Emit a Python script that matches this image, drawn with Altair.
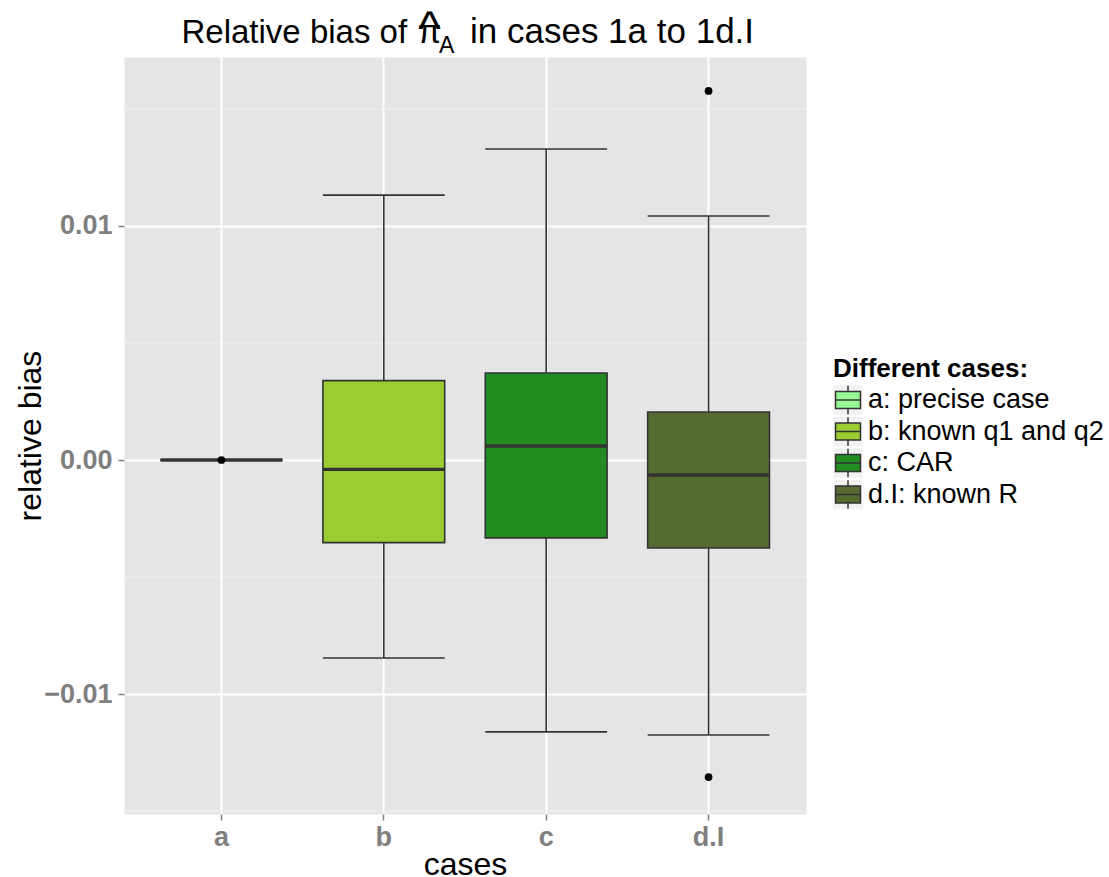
import altair as alt
import pandas as pd

# ---------------- data ----------------
cats = ["a", "b", "c", "d.I"]
labels = ["a: precise case", "b: known q1 and q2", "c: CAR", "d.I: known R"]
colors = ["#98FB98", "#9ACD32", "#228B22", "#556B2F"]
lower = [0.0, -0.00846, -0.01162, -0.01175]
q1 = [0.0, -0.00353, -0.00333, -0.00376]
med = [0.0, -0.00040, 0.00060, -0.00064]
q3 = [0.0, 0.00339, 0.00372, 0.00205]
upper = [0.0, 0.01132, 0.01329, 0.01043]
out_cat = ["a", "d.I", "d.I"]
out_val = [0.0, 0.01577, -0.01355]
major_y = [-0.01, 0.0, 0.01]
minor_y = [-0.015, -0.005, 0.005, 0.015]
y_domain = [-0.015128, 0.017222]

# ---------------- layout ----------------
W, H = 682, 757
STEP = W / 4.2
BW = 0.75 * STEP
FONT = "Liberation Sans"

df = pd.DataFrame({"cat": cats, "label": labels, "lower": lower, "q1": q1,
                   "med": med, "q3": q3, "upper": upper})
outl = pd.DataFrame({"cat": out_cat, "val": out_val})
minor = pd.DataFrame({"v": minor_y})
one = pd.DataFrame({"k": [0]})

xs = alt.Scale(domain=cats, paddingInner=0.25, paddingOuter=0.225)
ys = alt.Scale(domain=y_domain, nice=False, zero=False)
fill_scale = alt.Scale(domain=labels, range=colors)

xaxis = alt.Axis(labelFontWeight="bold", labelColor="#7F7F7F", labelFontSize=27,
                 labelFont=FONT, tickColor="#7F7F7F", tickSize=6, tickWidth=1.5,
                 labelPadding=4, grid=True, gridColor="white", gridWidth=2,
                 domain=False, titleFontSize=32, titleColor="black",
                 titleFontWeight="normal", titleFont=FONT, bandPosition=0.5,
                 labelAngle=0, titleBaseline="alphabetic", titleY=60)
yaxis = alt.Axis(values=major_y, format=".2f", labelFontWeight="bold",
                 labelColor="#7F7F7F", labelFontSize=27, labelFont=FONT,
                 tickColor="#7F7F7F", tickSize=6, tickWidth=1.5, labelPadding=6,
                 grid=True, gridColor="white", gridWidth=2, domain=False,
                 titleFontSize=32, titleColor="black", titleFontWeight="normal",
                 titleFont=FONT, titleBaseline="alphabetic", titleX=-84,
                 titleAngle=270)


def X():
    return alt.X("cat:N", scale=xs, axis=xaxis, title="cases")


def Y(field):
    return alt.Y(field, type="quantitative", scale=ys, axis=yaxis, title="relative bias")


def F():
    return alt.Fill("label:N", scale=fill_scale, legend=None)


LW = 1.6
minor_rules = alt.Chart(minor).mark_rule(color="#F2F2F2", strokeWidth=1).encode(y=Y("v"))

whisk_lo = alt.Chart(df).mark_rule(color="#333333", strokeWidth=LW).encode(
    x=X(), y=Y("lower"), y2="q1")
whisk_hi = alt.Chart(df).mark_rule(color="#333333", strokeWidth=LW).encode(
    x=X(), y=Y("q3"), y2="upper")
cap_lo = alt.Chart(df).mark_tick(color="#333333", thickness=LW, size=BW, opacity=1).encode(
    x=X(), y=Y("lower"))
cap_hi = alt.Chart(df).mark_tick(color="#333333", thickness=LW, size=BW, opacity=1).encode(
    x=X(), y=Y("upper"))
boxes = alt.Chart(df).mark_bar(stroke="#333333", strokeWidth=LW, opacity=1).encode(
    x=X(), y=Y("q1"), y2="q3", fill=F())
medians = alt.Chart(df).mark_tick(color="#333333", thickness=3.4, size=BW, opacity=1).encode(
    x=X(), y=Y("med"))
points = alt.Chart(outl).mark_circle(color="black", size=60, opacity=1).encode(
    x=X(), y=Y("val"))

# title pieces (plot-math style: pi with hat and subscript A)
tf = dict(font=FONT, color="black")
t1 = alt.Chart(one).mark_text(text="Relative bias of", fontSize=33, align="left",
                              baseline="alphabetic", **tf).encode(
    x=alt.value(57.5), y=alt.value(-14))
t2 = alt.Chart(one).mark_text(text="π", fontSize=34, align="center",
                              baseline="alphabetic", **tf).encode(
    x=alt.value(305.5), y=alt.value(-14))
t3 = alt.Chart(one).mark_text(text="^", fontSize=48, align="center",
                              baseline="alphabetic", **tf).encode(
    x=alt.value(305.5), y=alt.value(-12))
t4 = alt.Chart(one).mark_text(text="A", fontSize=23, align="left",
                              baseline="alphabetic", **tf).encode(
    x=alt.value(315), y=alt.value(-4))
t5 = alt.Chart(one).mark_text(text="in cases 1a to 1d.I", fontSize=35, align="left",
                              baseline="alphabetic", **tf).encode(
    x=alt.value(346), y=alt.value(-14))

main = alt.layer(minor_rules, whisk_lo, whisk_hi, cap_lo, cap_hi, boxes, medians,
                 points, t1, t2, t3, t4, t5)

# ---------------- legend (ggplot-style keys) ----------------
LY = alt.Y("label:N", scale=alt.Scale(type="point", domain=labels, range=[343, 437.5],
                                     padding=0), axis=None)
KEY_X = 724
key_bg = alt.Chart(df).mark_square(color="#F2F2F2", size=870, opacity=1).encode(
    x=alt.value(KEY_X), y=LY)
key_glyph = alt.Chart(df).mark_point(
    shape="M-0.83,-0.57H0.83V0.57H-0.83Z M-0.83,0H0.83 M0,-0.95V-0.57 M0,0.57V0.95",
    size=900, filled=True, stroke="#333333", strokeWidth=1.5, opacity=1,
    fillOpacity=1, strokeOpacity=1).encode(x=alt.value(KEY_X), y=LY, fill=F())
key_text = alt.Chart(df).mark_text(align="left", baseline="middle", fontSize=27,
                                   font=FONT, color="black").encode(
    x=alt.value(744), y=LY, text="label:N")
leg_title = alt.Chart(one).mark_text(text="Different cases:", align="left",
                                     baseline="alphabetic", fontSize=26,
                                     fontWeight="bold", font=FONT, color="black").encode(
    x=alt.value(709), y=alt.value(320))
leg = alt.layer(key_bg, key_glyph, key_text, leg_title)

chart = alt.layer(main, leg).resolve_scale(y="independent").properties(
    width=W, height=H,
    padding={"left": 124, "top": 57, "right": 303, "bottom": 63},
    autosize=alt.AutoSizeParams(type="none"),
    background="white",
).configure(font=FONT).configure_view(fill="#E5E5E5", stroke="transparent")

chart.save("out.html", embed_options={"renderer": "svg", "actions": False})
